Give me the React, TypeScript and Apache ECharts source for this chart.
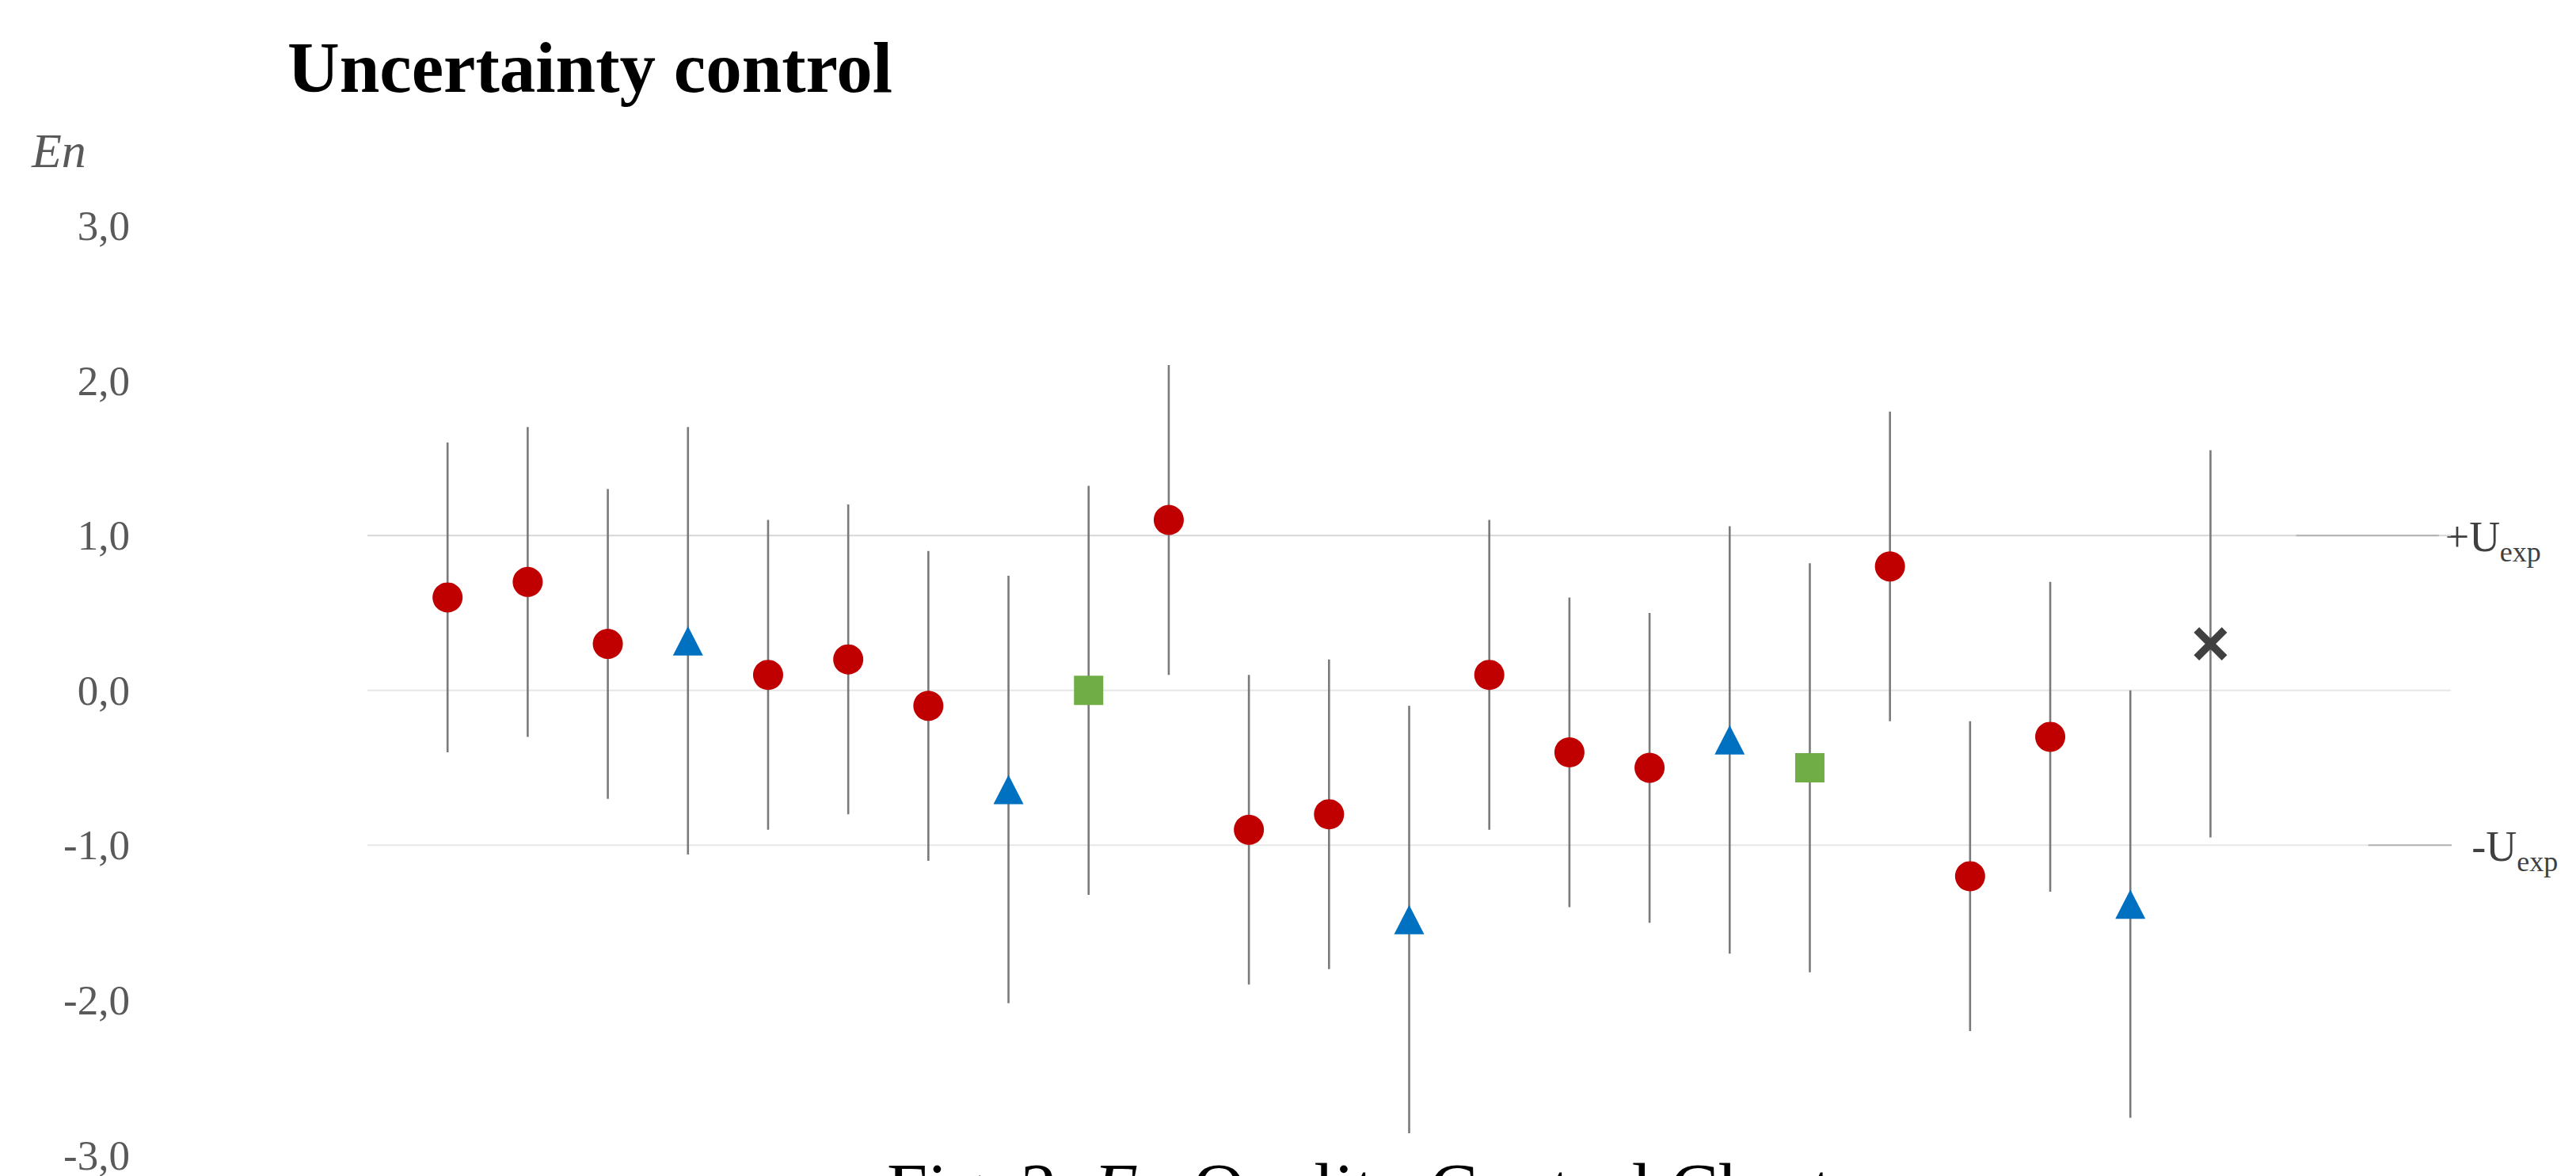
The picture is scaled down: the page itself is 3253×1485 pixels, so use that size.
import React, { useEffect, useRef } from "react";
import * as echarts from "echarts";

// ---- data ----
const samples = [1, 2, 3, 4, 5, 6, 7, 8, 9, 10, 11, 12, 13, 14, 15, 16, 17, 18, 19, 20, 21, 22, 23];
const enValues = [0.6, 0.7, 0.3, 0.32, 0.1, 0.2, -0.1, -0.64, 0.0, 1.1, -0.9, -0.8, -1.48, 0.1, -0.4, -0.5, -0.32, -0.5, 0.8, -1.2, -0.3, -1.38, 0.3];
const uncertainty = [1.0, 1.0, 1.0, 1.38, 1.0, 1.0, 1.0, 1.38, 1.32, 1.0, 1.0, 1.0, 1.38, 1.0, 1.0, 1.0, 1.38, 1.32, 1.0, 1.0, 1.0, 1.38, 1.25];
const markerKinds = ["circle", "circle", "circle", "triangle", "circle", "circle", "circle", "triangle", "square", "circle", "circle", "circle", "triangle", "circle", "circle", "circle", "triangle", "square", "circle", "circle", "circle", "triangle", "cross"];
const yTicks = [-3, -2, -1, 0, 1, 2, 3];
const xRange = [0, 26];
const limitLevels = [1, 0, -1];
const limitColors = ["#d6d6d6", "#e6e6e6", "#e6e6e6"];
const uexpLevels = [1, -1];
const uexpStart = [24.07, 24.97];
const uexpEnd = [25.85, 26.18];
const uexpSigns = ["+", "-"];

const SERIF = "'Liberation Serif', 'Times New Roman', serif";

const kindStyle: Record<string, { symbol: string; size: any; color: string }> = {
  circle: { symbol: "circle", size: 38, color: "#C00000" },
  triangle: { symbol: "triangle", size: [38, 37], color: "#0070C0" },
  square: { symbol: "rect", size: 37, color: "#70AD47" },
  cross: {
    symbol: "path://M1.6,0L5,3.4L8.4,0L10,1.6L6.6,5L10,8.4L8.4,10L5,6.6L1.6,10L0,8.4L3.4,5L0,1.6Z",
    size: 42,
    color: "#404040",
  },
};

export default function App() {
  const ref = useRef<HTMLDivElement>(null);
  useEffect(() => {
    document.body.style.margin = "0";
    const chart = echarts.init(ref.current!, null, { renderer: "svg" });

    const errData = samples.map((s, i) => [s, enValues[i] - uncertainty[i], enValues[i] + uncertainty[i]]);

    const kinds = ["circle", "triangle", "square", "cross"];
    const scatterSeries = kinds.map((k) => ({
      type: "scatter",
      name: k,
      symbol: kindStyle[k].symbol,
      symbolSize: kindStyle[k].size,
      itemStyle: { color: kindStyle[k].color, opacity: 1 },
      data: samples.map((s, i) => (markerKinds[i] === k ? [s, enValues[i]] : null)).filter((d) => d),
      z: 5,
      silent: true,
    }));

    const limitSeries = limitLevels.map((lv, i) => ({
      type: "line",
      data: [
        [xRange[0], lv],
        [xRange[1], lv],
      ],
      showSymbol: false,
      symbol: "none",
      lineStyle: { color: limitColors[i], width: 2 },
      z: 1,
      silent: true,
    }));

    const uexpSeries = uexpLevels.map((lv, i) => ({
      type: "line",
      data: [
        [uexpStart[i], lv],
        [uexpEnd[i], lv],
      ],
      showSymbol: false,
      symbol: "none",
      clip: false,
      lineStyle: { color: "#b3b3b3", width: 2 },
      z: 2,
      silent: true,
    }));

    chart.setOption({
      animation: false,
      backgroundColor: "#ffffff",
      grid: { left: 464, right: 158, top: 285, bottom: 26.4, containLabel: false },
      xAxis: {
        type: "value",
        min: xRange[0],
        max: xRange[1],
        show: false,
        splitLine: { show: false },
      },
      yAxis: {
        type: "value",
        min: yTicks[0],
        max: yTicks[yTicks.length - 1],
        interval: 1,
        axisLine: { show: false },
        axisTick: { show: false },
        splitLine: { show: false },
        axisLabel: {
          margin: 300,
          color: "#595959",
          fontFamily: SERIF,
          fontSize: 53,
          formatter: (v: number) => v.toFixed(1).replace(".", ","),
        },
      },
      series: [
        ...limitSeries,
        ...uexpSeries,
        {
          type: "custom",
          data: errData,
          z: 3,
          silent: true,
          renderItem: (params: any, api: any) => {
            const x = api.value(0);
            const p1 = api.coord([x, api.value(2)]);
            const p2 = api.coord([x, api.value(1)]);
            return {
              type: "line",
              shape: { x1: p1[0], y1: p1[1], x2: p2[0], y2: p2[1] },
              style: { stroke: "#7a7a7a", lineWidth: 2.6 },
            };
          },
        },
        ...scatterSeries,
      ],
    });

    const graphics: any[] = [
      {
        type: "text",
        x: 363,
        y: 85,
        style: {
          text: "Uncertainty control",
          fontFamily: SERIF,
          fontWeight: "bold",
          fontSize: 91,
          fill: "#000000",
          align: "left",
          verticalAlign: "middle",
        },
      },
      {
        type: "text",
        x: 40,
        y: 190,
        style: {
          text: "En",
          fontFamily: SERIF,
          fontStyle: "italic",
          fontSize: 62,
          fill: "#595959",
          align: "left",
          verticalAlign: "middle",
        },
      },
      {
        type: "text",
        x: 1120,
        y: 1501,
        style: {
          text: "{r|Fig. 2. }{i|En}{r| Quality Control Chart}",
          fontFamily: SERIF,
          fontSize: 92,
          fill: "#000000",
          align: "left",
          verticalAlign: "middle",
          rich: {
            r: { fontFamily: SERIF, fontSize: 92, fill: "#000000" },
            i: { fontFamily: SERIF, fontSize: 92, fontStyle: "italic", fill: "#000000" },
          },
        },
      },
    ];

    uexpLevels.forEach((lv, i) => {
      const p = chart.convertToPixel({ gridIndex: 0 }, [uexpEnd[i], lv]) as number[];
      const x0 = p[0] + 8;
      const mainW = uexpSigns[i] === "+" ? 69 : 57;
      graphics.push({
        type: "text",
        x: x0,
        y: p[1] + 2,
        style: {
          text: uexpSigns[i] + "U",
          fontFamily: SERIF,
          fontSize: 54,
          fill: "#404040",
          align: "left",
          verticalAlign: "middle",
        },
      });
      graphics.push({
        type: "text",
        x: x0 + mainW,
        y: p[1] + 21,
        style: {
          text: "exp",
          fontFamily: SERIF,
          fontSize: 36,
          fill: "#404040",
          align: "left",
          verticalAlign: "middle",
        },
      });
    });

    chart.setOption({ graphic: graphics });

    return () => chart.dispose();
  }, []);

  return (
    <div
      ref={ref}
      style={{ position: "absolute", left: 0, top: 0, width: 3253, height: 1485, background: "#fff" }}
    />
  );
}
